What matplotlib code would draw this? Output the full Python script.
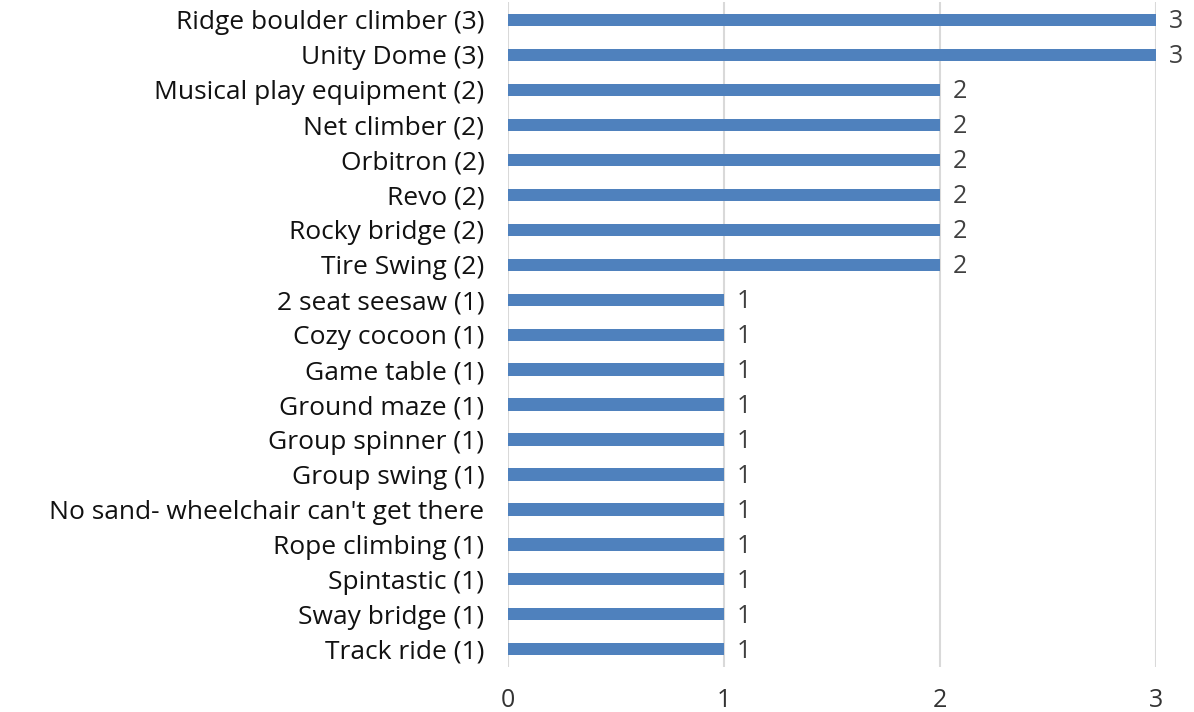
import matplotlib
matplotlib.use("Agg")
import matplotlib.pyplot as plt

categories = [
    "Ridge boulder climber (3)", "Unity Dome (3)", "Musical play equipment (2)",
    "Net climber (2)", "Orbitron (2)", "Revo (2)", "Rocky bridge (2)",
    "Tire Swing (2)", "2 seat seesaw (1)", "Cozy cocoon (1)", "Game table (1)",
    "Ground maze (1)", "Group spinner (1)", "Group swing (1)",
    "No sand- wheelchair can't get there", "Rope climbing (1)",
    "Spintastic (1)", "Sway bridge (1)", "Track ride (1)",
]
values = [3, 3, 2, 2, 2, 2, 2, 2, 1, 1, 1, 1, 1, 1, 1, 1, 1, 1, 1]
xticks = [0, 1, 2, 3]

plt.rcParams['font.family'] = ['Open Sans', 'DejaVu Sans']

fig = plt.figure(figsize=(11.94, 7.12), dpi=100)
ax = fig.add_axes([0.4255, 0.0635, 0.5425, 0.933])

n = len(categories)
ypos = list(range(n))
ax.barh(ypos, values, height=0.35, color="#4F81BD", zorder=3)
ax.set_ylim(n - 0.5, -0.5)
ax.set_xlim(0, 3)
ax.set_yticks(ypos)
ax.set_yticklabels(categories, fontsize=19, color="#111111")
ax.set_xticks(xticks)
ax.set_xticklabels([str(t) for t in xticks], fontsize=18, color="#333333")
ax.tick_params(axis='y', length=0, pad=17)
ax.tick_params(axis='x', length=0, pad=15)
for s in ax.spines.values():
    s.set_visible(False)
ax.xaxis.grid(True, color="#D9D9D9", linewidth=1.5, zorder=0)
ax.set_axisbelow(True)

for y, v in zip(ypos, values):
    ax.text(v + 0.06, y + 0.05, str(v), va='center', ha='left', fontsize=18,
            color="#404040")

fig.savefig("out.png", dpi=100)
